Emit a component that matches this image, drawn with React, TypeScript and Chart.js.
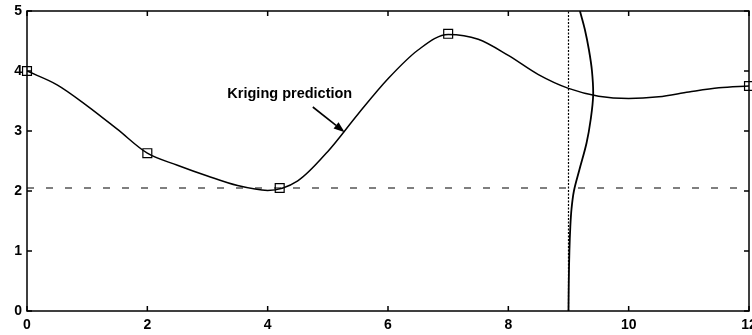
import React, { useEffect, useRef } from "react";
import { Chart, registerables } from "chart.js";

Chart.register(...registerables);

// Kriging prediction curve
const KRIG_X = [0, 0.5, 1, 1.5, 2, 2.5, 3, 3.5, 4, 4.5, 5, 5.5, 6, 6.5, 7, 7.5, 8, 8.5, 9, 9.5, 10, 10.5, 11, 11.5, 12];
const KRIG_Y = [4.0, 3.77, 3.42, 3.03, 2.63, 2.43, 2.25, 2.09, 2.01, 2.17, 2.66, 3.28, 3.87, 4.35, 4.61, 4.53, 4.26, 3.94, 3.71, 3.58, 3.54, 3.57, 3.65, 3.72, 3.75];

// Observations (squares)
const OBS_X = [0, 2, 4.2, 7, 12];
const OBS_Y = [4.0, 2.63, 2.05, 4.62, 3.75];

// Threshold (dashed horizontal line)
const THRESHOLD = 2.05;

// Prediction location (dotted vertical line)
const PRED_X = 9;

// Predictive distribution drawn sideways at x = 9
const GAUSS_Y = [0, 0.5, 1.0, 1.4, 1.7, 2.0, 2.35, 2.8, 3.2, 3.6, 4.0, 4.35, 4.7, 5.0];
const GAUSS_X = [9.0, 9.005, 9.015, 9.03, 9.05, 9.09, 9.18, 9.3, 9.37, 9.41, 9.39, 9.34, 9.27, 9.19];

// Axis ticks
const X_TICKS = [0, 2, 4, 6, 8, 10, 12];
const Y_TICKS = [0, 1, 2, 3, 4, 5];

// Annotation
const LABEL_TEXT = "Kriging prediction";
const LABEL_POS = [3.33, 3.555];
const ARROW_FROM = [4.75, 3.4];
const ARROW_TO = [5.28, 2.98];

const FONT = "'Liberation Sans', Arial, Helvetica, sans-serif";

const framePlugin = {
  id: "frameTicks",
  afterDraw(chart: any) {
    const { ctx, chartArea, scales } = chart;
    const { left, right, top, bottom } = chartArea;
    const xs = scales.x;
    const ys = scales.y;
    ctx.save();
    ctx.strokeStyle = "#000";
    ctx.lineWidth = 1.5;
    ctx.strokeRect(left, top, right - left, bottom - top);
    const tl = 5;
    ctx.beginPath();
    X_TICKS.forEach((v) => {
      const px = xs.getPixelForValue(v);
      ctx.moveTo(px, bottom);
      ctx.lineTo(px, bottom - tl);
      ctx.moveTo(px, top);
      ctx.lineTo(px, top + tl);
    });
    Y_TICKS.forEach((v) => {
      const py = ys.getPixelForValue(v);
      ctx.moveTo(left, py);
      ctx.lineTo(left + tl, py);
      ctx.moveTo(right, py);
      ctx.lineTo(right - tl, py);
    });
    ctx.stroke();

    // label
    ctx.fillStyle = "#000";
    ctx.font = `bold 14.5px ${FONT}`;
    ctx.textAlign = "left";
    ctx.textBaseline = "alphabetic";
    ctx.fillText(LABEL_TEXT, xs.getPixelForValue(LABEL_POS[0]), ys.getPixelForValue(LABEL_POS[1]));

    // arrow
    const x1 = xs.getPixelForValue(ARROW_FROM[0]);
    const y1 = ys.getPixelForValue(ARROW_FROM[1]);
    const x2 = xs.getPixelForValue(ARROW_TO[0]);
    const y2 = ys.getPixelForValue(ARROW_TO[1]);
    const ang = Math.atan2(y2 - y1, x2 - x1);
    const hl = 11;
    const hw = 4;
    const bx = x2 - hl * Math.cos(ang);
    const by = y2 - hl * Math.sin(ang);
    ctx.lineWidth = 1.6;
    ctx.beginPath();
    ctx.moveTo(x1, y1);
    ctx.lineTo(bx, by);
    ctx.stroke();
    ctx.beginPath();
    ctx.moveTo(x2, y2);
    ctx.lineTo(bx + hw * Math.sin(ang), by - hw * Math.cos(ang));
    ctx.lineTo(bx - hw * Math.sin(ang), by + hw * Math.cos(ang));
    ctx.closePath();
    ctx.fill();
    ctx.restore();
  },
};

export default function App() {
  const ref = useRef<HTMLCanvasElement>(null);

  useEffect(() => {
    document.body.style.margin = "0";
    const canvas = ref.current;
    if (!canvas) return;
    const chart = new Chart(canvas, {
      type: "scatter",
      data: {
        datasets: [
          {
            label: "observations",
            data: OBS_X.map((x, i) => ({ x, y: OBS_Y[i] })),
            showLine: false,
            pointStyle: "rect",
            pointRadius: 6.3,
            pointBorderWidth: 1.2,
            pointBorderColor: "#000",
            pointBackgroundColor: "rgba(0,0,0,0)",
            clip: false as any,
          },
          {
            label: "kriging",
            data: KRIG_X.map((x, i) => ({ x, y: KRIG_Y[i] })),
            showLine: true,
            borderColor: "#000",
            borderWidth: 1.5,
            pointRadius: 0,
            cubicInterpolationMode: "monotone",
          },
          {
            label: "distribution",
            data: GAUSS_X.map((x, i) => ({ x, y: GAUSS_Y[i] })),
            showLine: true,
            borderColor: "#000",
            borderWidth: 1.8,
            pointRadius: 0,
            tension: 0.35,
          },
          {
            label: "threshold",
            data: [
              { x: 0, y: THRESHOLD },
              { x: 12, y: THRESHOLD },
            ],
            showLine: true,
            borderColor: "#000",
            borderWidth: 1.1,
            borderDash: [7, 12],
            pointRadius: 0,
          },
          {
            label: "location",
            data: [
              { x: PRED_X, y: 0 },
              { x: PRED_X, y: 5 },
            ],
            showLine: true,
            borderColor: "#000",
            borderWidth: 1.2,
            borderDash: [2, 1.5],
            pointRadius: 0,
          },
        ],
      },
      options: {
        responsive: false,
        animation: false,
        layout: { padding: { top: 11, right: 3, left: 0, bottom: 0 }, autoPadding: false } as any,
        plugins: {
          legend: { display: false },
          tooltip: { enabled: false },
        },
        scales: {
          x: {
            type: "linear",
            min: 0,
            max: 12,
            afterFit: (s: any) => {
              s.height = 24;
              s.paddingLeft = 0;
              s.paddingRight = 0;
            },
            afterBuildTicks: (s: any) => {
              s.ticks = X_TICKS.map((v) => ({ value: v }));
            },
            ticks: {
              color: "#000",
              padding: 6,
              maxRotation: 0,
              autoSkip: false,
              font: { family: FONT, size: 14, weight: "bold" },
            },
            grid: { display: false, drawTicks: false },
            border: { display: false },
          },
          y: {
            type: "linear",
            min: 0,
            max: 5,
            afterFit: (s: any) => {
              s.width = 27;
              s.paddingTop = 0;
              s.paddingBottom = 0;
            },
            afterBuildTicks: (s: any) => {
              s.ticks = Y_TICKS.map((v) => ({ value: v }));
            },
            ticks: {
              color: "#000",
              padding: 5,
              autoSkip: false,
              font: { family: FONT, size: 14, weight: "bold" },
            },
            grid: { display: false, drawTicks: false },
            border: { display: false },
          },
        },
      },
      plugins: [framePlugin],
    });
    return () => chart.destroy();
  }, []);

  return (
    <div style={{ position: "fixed", left: 0, top: 0, width: 752, height: 335, background: "#fff" }}>
      <canvas ref={ref} width={752} height={335} style={{ display: "block" }} />
    </div>
  );
}
